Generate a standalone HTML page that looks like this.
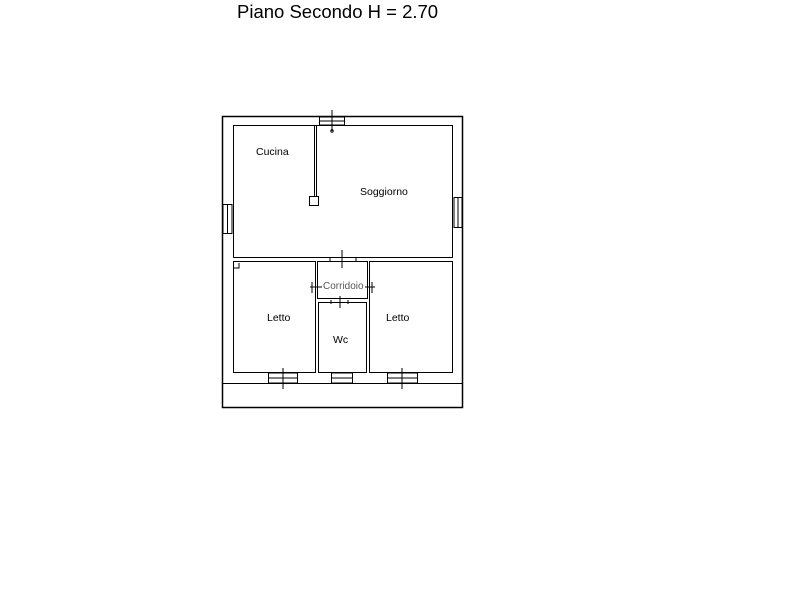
<!DOCTYPE html>
<html><head><style>
html,body{margin:0;padding:0;background:#fff;width:800px;height:600px;overflow:hidden}
svg{display:block}
text{font-family:"Liberation Sans",Arial,sans-serif;fill:#000}
</style></head><body>
<svg width="800" height="600" viewBox="0 0 800 600" xmlns="http://www.w3.org/2000/svg">
<text x="237" y="18" font-size="18.5">Piano Secondo H = 2.70</text>
<g fill="none" stroke="#000" stroke-width="1">
<!-- outer -->
<rect x="222.5" y="116.5" width="240" height="291" stroke-width="1.5"/>
<!-- soggiorno/cucina -->
<rect x="233.5" y="125.5" width="219" height="132"/>
<!-- rooms -->
<polyline points="233.5,268 233.5,261.5 315.5,261.5 315.5,372.5 233.5,372.5 233.5,268 239,268 239,263"/>
<rect x="317.5" y="261.5" width="50" height="37"/>
<rect x="318.5" y="302.5" width="48" height="70"/>
<rect x="369.5" y="261.5" width="83" height="111"/>
<!-- balcony -->
<line x1="222" y1="383.5" x2="462" y2="383.5"/>
<!-- kitchen partition -->
<line x1="314.5" y1="125" x2="314.5" y2="197"/>
<line x1="316.5" y1="125" x2="316.5" y2="197"/>
<rect x="309.5" y="196.5" width="9" height="9"/>
<!-- windows -->
<rect x="319.5" y="117" width="25" height="8"/>
<line x1="319" y1="121" x2="345" y2="121"/>
<line x1="332" y1="110" x2="332" y2="131"/>
<circle cx="332" cy="131" r="1.2"/>
<rect x="223" y="204.5" width="9" height="29"/>
<line x1="227.5" y1="205" x2="227.5" y2="233"/>
<rect x="454" y="197.5" width="8" height="30"/>
<line x1="458" y1="198" x2="458" y2="227"/>
<rect x="268.5" y="373" width="29" height="10"/>
<line x1="268" y1="378" x2="298" y2="378"/>
<line x1="283" y1="368" x2="283" y2="389"/>
<rect x="331.5" y="373" width="21" height="10"/>
<line x1="331" y1="378" x2="353" y2="378"/>
<rect x="387.5" y="373" width="30" height="10"/>
<line x1="387" y1="378" x2="418" y2="378"/>
<line x1="402" y1="368" x2="402" y2="389"/>
<!-- doors -->
<line x1="342" y1="250" x2="342" y2="268"/>
<line x1="330" y1="258" x2="330" y2="262"/>
<line x1="356" y1="258" x2="356" y2="262"/>
<line x1="310" y1="287" x2="322" y2="287"/>
<line x1="365" y1="287" x2="375" y2="287"/>
<line x1="312" y1="282" x2="312" y2="293"/>
<line x1="372" y1="282" x2="372" y2="293"/>
<line x1="340" y1="296" x2="340" y2="308"/>
<line x1="331" y1="300" x2="331" y2="304"/>
<line x1="348" y1="300" x2="348" y2="304"/>
</g>
<text x="256" y="155" font-size="10.5">Cucina</text>
<text x="360" y="195" font-size="10.5">Soggiorno</text>
<text x="323" y="289" font-size="10" fill="#555" style="fill:#555">Corridoio</text>
<text x="267" y="321" font-size="10.5">Letto</text>
<text x="386" y="321" font-size="10.5">Letto</text>
<text x="333" y="343" font-size="10.5">Wc</text>
</svg>
</body></html>
